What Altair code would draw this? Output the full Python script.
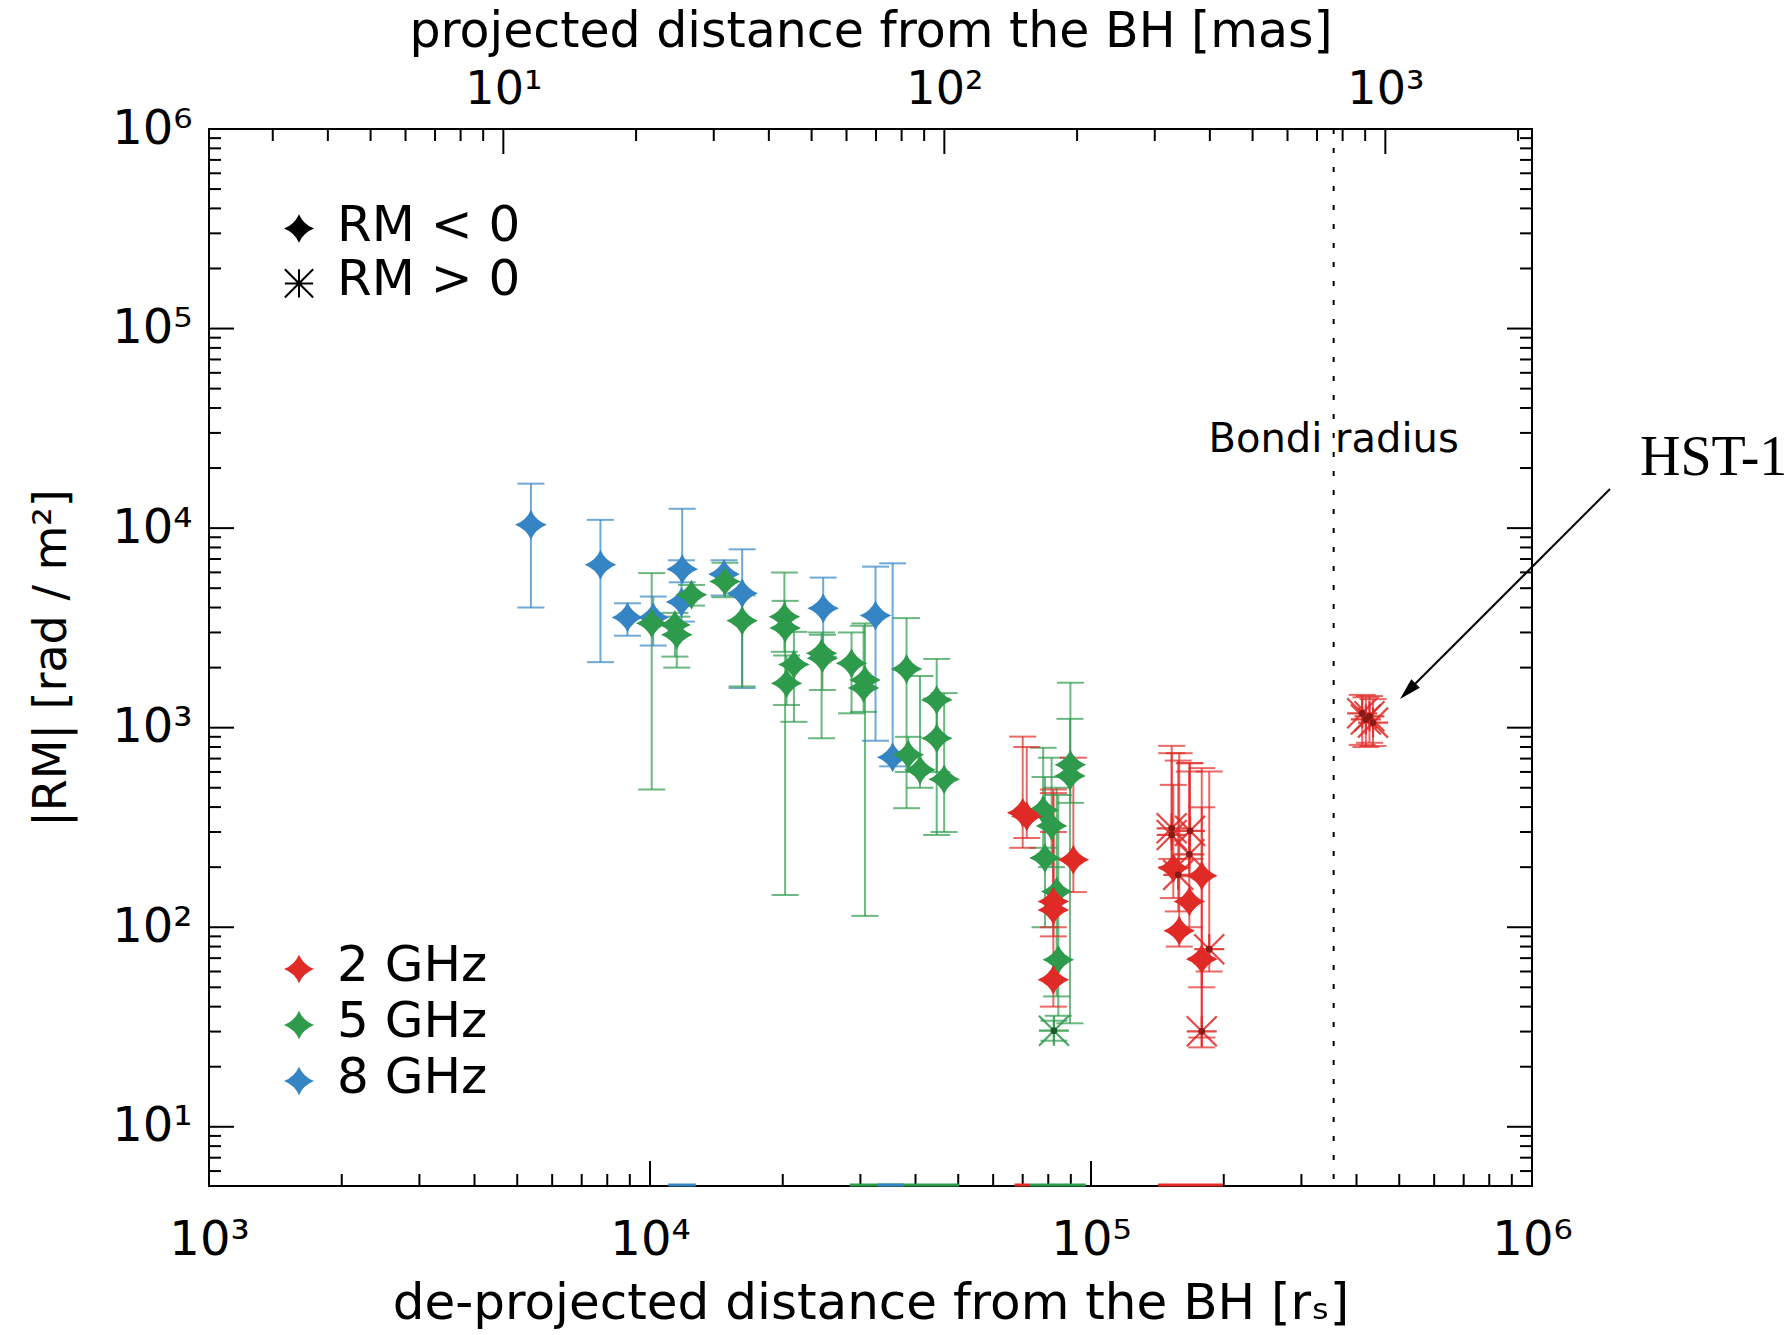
import altair as alt
import pandas as pd

# ---------------- values ----------------
# 8 GHz, RM < 0
b8_r  = [5370, 7720, 8890, 10170, 11830, 11790, 14720, 16180, 24700, 32460, 35500]
b8_rm = [10400, 6550, 3570, 3570, 6230, 4260, 5880, 4720, 3970, 3650, 711]
b8_lo = [4000, 2130, 2890, 2580, 5350, 3400, 4600, 1580, 2270, 860, 640]
b8_hi = [16700, 11000, 4200, 4540, 12500, 6900, 6900, 7830, 5650, 6410, 6660]

# 5 GHz, RM < 0
g5n_r  = [10090, 11390, 11500, 12420, 14790, 16180, 20170, 20250, 20400, 21200, 24500, 24600,
          28640, 30720, 30500, 38170, 38520, 40950, 44680, 44700, 46450,
          77900, 81400, 78650, 83600, 84300, 89800, 89600]
g5n_rm = [3340, 3270, 2920, 4630, 5400, 3430, 3600, 3160, 1670, 2070, 2360, 2230,
          2100, 1735, 1580, 1970, 731, 615, 1377, 885, 552,
          387, 322, 222, 151, 68.7, 652, 573]
g5n_lo = [490, 2270, 2000, 4090, 4500, 1610, 2400, 145, 1300, 1070, 885, 1545,
          1180, 114, 1200, 395, 600, 500, 290, 600, 300,
          250, 200, 100, 45, 36, 420, 33]
g5n_hi = [5950, 3760, 3600, 5190, 6700, 4600, 5990, 4320, 2300, 3020, 3000, 2920,
          3000, 3330, 3240, 3540, 900, 1815, 2210, 1400, 1490,
          793, 707, 566, 500, 460, 1680, 1107]

# 5 GHz, RM > 0
g5p_r  = [82400]
g5p_rm = [30.3]
g5p_lo = [27]
g5p_hi = [34]

# 2 GHz, RM < 0
r2n_r  = [70000, 71500, 91200, 82150, 82150, 82150, 153700, 178300, 167100, 158500, 178300]
r2n_rm = [375, 360, 218, 134.6, 122, 54.6, 198, 181, 134.6, 96, 69.2]
r2n_lo = [250, 280, 150, 100, 90, 40, 140, 50, 100, 80, 28]
r2n_hi = [902, 800, 707, 490, 470, 300, 517, 627, 664, 745, 399]

# 2 GHz, RM > 0
r2p_r  = [152400, 152400, 167700, 167100, 157700, 185400, 178300]
r2p_rm = [313, 290, 304, 232, 183, 77.6, 30.1]
r2p_lo = [200, 220, 220, 180, 120, 60, 25]
r2p_hi = [811, 745, 664, 603, 684, 603, 70]

# HST-1 (2 GHz, RM > 0)
hst_r  = [412000, 420000, 428000, 436000]
hst_rm = [1180, 1100, 1140, 1060]
hst_lo = [820, 800, 840, 810]
hst_hi = [1460, 1420, 1440, 1390]

# coloured ranges on the bottom axis
seg_lo   = [11000, 28400, 32800, 67100, 72800, 142000]
seg_hi   = [12700, 50200, 37600, 72800, 97300, 199000]
seg_band = ["8", "5", "8", "2", "5", "2"]

bondi_r = [355000]
RS_PER_MAS = 465.0

# ---------------- styling ----------------
W, H = 1323, 1057
FONT = "DejaVu Sans"
BANDS = ["2", "5", "8"]
COLORS = ["#e02a26", "#2e9a4b", "#3584c4"]
DARK = ["#8a1a15", "#1d5a2c", "#1f4f78"]
STAR = "M0,-0.95 Q0.28,-0.28 1,0 Q0.28,0.28 0,0.95 Q-0.28,0.28 -1,0 Q-0.28,-0.28 0,-0.95 Z"
AST = "M-1,0 L1,0 M-1,-1 L1,1 M-1,1 L1,-1 M0,-1 L0,1"
SUP = "'10' + ['\u2070','\u00b9','\u00b2','\u00b3','\u2074','\u2075','\u2076'][round(log(datum.value)/LN10)]"


def frame(band, sign, r, rm, lo, hi):
    return pd.DataFrame({"band": band, "sign": sign, "r": r, "rm": rm, "lo": lo, "hi": hi})


pts = pd.concat([
    frame("8", "neg", b8_r, b8_rm, b8_lo, b8_hi),
    frame("5", "neg", g5n_r, g5n_rm, g5n_lo, g5n_hi),
    frame("5", "pos", g5p_r, g5p_rm, g5p_lo, g5p_hi),
    frame("2", "neg", r2n_r, r2n_rm, r2n_lo, r2n_hi),
    frame("2", "pos", r2p_r, r2p_rm, r2p_lo, r2p_hi),
    frame("2", "pos", hst_r, hst_rm, hst_lo, hst_hi),
], ignore_index=True)

XS = alt.Scale(type="log", domain=[1e3, 1e6], nice=False)
YS = alt.Scale(type="log", domain=[5.05, 1e6], nice=False)
MS = alt.Scale(type="log", domain=[1e3 / RS_PER_MAS, 1e6 / RS_PER_MAS], nice=False)
CS = alt.Scale(domain=BANDS, range=COLORS)
DS = alt.Scale(domain=BANDS, range=DARK)

XAX = alt.Axis(values=[1e3, 1e4, 1e5, 1e6], labelExpr=SUP, ticks=False, tickSize=0, domain=False,
               grid=False, labelFontSize=48, labelPadding=54, labelBaseline="middle",
               labelFlush=False, labelOverlap=False,
               title="de-projected distance from the BH [r\u209b]", titleFontSize=50,
               titleY=117, titleBaseline="middle")
YAX = alt.Axis(values=[1e1, 1e2, 1e3, 1e4, 1e5, 1e6], labelExpr=SUP, ticks=False, tickSize=0,
               domain=False, grid=False, labelFontSize=48, labelPadding=17, labelFlush=False,
               labelOverlap=False, title="|RM| [rad / m\u00b2]", titleFontSize=46,
               titleX=-158, titleY=H / 2, titleAngle=-90, titleBaseline="middle", titleAlign="center")
TAX = alt.Axis(orient="top", values=[10, 100, 1000], labelExpr=SUP, ticks=False, tickSize=0,
               domain=False, grid=False, labelFontSize=46, labelPadding=40, labelBaseline="middle",
               labelFlush=False, labelOverlap=False,
               title="projected distance from the BH [mas]", titleFontSize=49,
               titleY=-98, titleBaseline="middle")


def xr(field="r"):
    return alt.X(f"{field}:Q", scale=XS, axis=XAX)


def yr(field):
    return alt.Y(f"{field}:Q", scale=YS, axis=YAX)


# tick positions for inward ticks
def log_ticks(lo, hi):
    major, minor = [], []
    e = -2
    while 10 ** e <= hi * 1.0001:
        for m in range(1, 10):
            v = m * 10 ** e
            if lo * 0.9999 <= v <= hi * 1.0001:
                (major if m == 1 else minor).append(v)
        e += 1
    return major, minor


xmaj, xmin = log_ticks(1e3, 1e6)
ymaj, ymin = log_ticks(5.05, 1e6)
mmaj, mmin = log_ticks(1e3 / RS_PER_MAS, 1e6 / RS_PER_MAS)

MAJ, MIN = 25, 12
tick_layers = []
for vals, ln in ((xmaj, MAJ), (xmin, MIN)):
    d = pd.DataFrame({"v": vals})
    tick_layers.append(alt.Chart(d).mark_rule(color="black", strokeWidth=2).encode(
        x=xr("v"), y=alt.value(H), y2=alt.value(H - ln)))
for vals, ln in ((ymaj, MAJ), (ymin, MIN)):
    d = pd.DataFrame({"v": vals})
    tick_layers.append(alt.Chart(d).mark_rule(color="black", strokeWidth=2).encode(
        y=yr("v"), x=alt.value(0), x2=alt.value(ln)))
    tick_layers.append(alt.Chart(d).mark_rule(color="black", strokeWidth=2).encode(
        y=yr("v"), x=alt.value(W), x2=alt.value(W - ln)))

bondi = pd.DataFrame({"r": bondi_r, "label": ["Bondi radius"]})
bondi_line = alt.Chart(bondi).mark_rule(color="black", strokeWidth=2, strokeDash=[5, 14]).encode(
    x=xr(), y=alt.value(0), y2=alt.value(H))
bondi_text = alt.Chart(bondi).mark_text(font=FONT, fontSize=40, align="center", baseline="middle",
                                        color="black").encode(x=xr(), y=alt.value(311), text="label:N")

base = alt.Chart(pts)
col = alt.Color("band:N", scale=CS, legend=None)
err = base.mark_rule(strokeWidth=2, opacity=0.7).encode(x=xr(), y=yr("lo"), y2="hi:Q", color=col)
cap_lo = base.mark_tick(orient="horizontal", size=27, thickness=2, opacity=0.7).encode(
    x=xr(), y=yr("lo"), color=col)
cap_hi = base.mark_tick(orient="horizontal", size=27, thickness=2, opacity=0.7).encode(
    x=xr(), y=yr("hi"), color=col)
stars = base.transform_filter(alt.datum.sign == "neg").mark_point(
    shape=STAR, filled=True, size=1000, opacity=1, strokeWidth=0).encode(x=xr(), y=yr("rm"), color=col)
asts = base.transform_filter(alt.datum.sign == "pos").mark_point(
    shape=AST, filled=False, size=900, strokeWidth=2.2, opacity=0.85).encode(x=xr(), y=yr("rm"), color=col)
dots = base.transform_filter(alt.datum.sign == "pos").mark_point(
    shape="circle", filled=True, size=45, opacity=1, strokeWidth=0).encode(
    x=xr(), y=yr("rm"), fill=alt.Fill("band:N", scale=DS, legend=None))

segs = pd.DataFrame({"lo": seg_lo, "hi": seg_hi, "band": seg_band})
seg_layer = alt.Chart(segs).mark_rule(strokeWidth=3).encode(
    x=xr("lo"), x2="hi:Q", y=alt.value(H - 1), color=col)

# legends (drawn in the plot area)
legend_layers = []
leg_items = [("RM < 0", "neg", "black", 99.6), ("RM > 0", "pos", "black", 154.4),
             ("2 GHz", "neg", COLORS[0], 840), ("5 GHz", "neg", COLORS[1], 896),
             ("8 GHz", "neg", COLORS[2], 952)]
for label, sign, colr, py in leg_items:
    d = pd.DataFrame({"t": [label]})
    if sign == "neg":
        sym = alt.Chart(d).mark_point(shape=STAR, filled=True, size=900, color=colr, opacity=1,
                                      strokeWidth=0)
    else:
        sym = alt.Chart(d).mark_point(shape=AST, filled=False, size=800, color=colr, strokeWidth=2,
                                      opacity=1)
    legend_layers.append(sym.encode(x=alt.value(90), y=alt.value(py)))
    legend_layers.append(alt.Chart(d).mark_text(font=FONT, fontSize=50, align="left", baseline="middle",
                                                color="black").encode(
        x=alt.value(128), y=alt.value(py - 3), text="t:N"))

# HST-1 annotation
hst_df = pd.DataFrame({"t": ["HST-1"]})
hst_text = alt.Chart(hst_df).mark_text(font="Liberation Serif", fontSize=56, align="left",
                                       baseline="middle", color="black").encode(
    x=alt.value(1431), y=alt.value(329), text="t:N")
arrow_line = alt.Chart(hst_df).mark_rule(color="black", strokeWidth=2).encode(
    x=alt.value(1401), x2=alt.value(1198), y=alt.value(360), y2=alt.value(563))
arrow_head = alt.Chart(hst_df).mark_point(shape="M0,-1 L0.55,1 L-0.55,1 Z", filled=True, size=484,
                                          color="black", angle=225, opacity=1, strokeWidth=0).encode(
    x=alt.value(1198.8), y=alt.value(562.2))

main = alt.layer(*tick_layers, bondi_line, bondi_text, err, cap_lo, cap_hi, seg_layer,
                 stars, asts, dots, *legend_layers, hst_text, arrow_line, arrow_head)

# top axis in mas
top_layers = []
for vals, ln in ((mmaj, MAJ), (mmin, MIN)):
    d = pd.DataFrame({"m": vals})
    top_layers.append(alt.Chart(d).mark_rule(color="black", strokeWidth=2).encode(
        x=alt.X("m:Q", scale=MS, axis=TAX), y=alt.value(0), y2=alt.value(ln)))
top = alt.layer(*top_layers)

chart = alt.layer(main, top).resolve_scale(x="independent").properties(
    width=W, height=H, autosize="none",
    padding={"left": 209, "top": 129, "right": 260, "bottom": 149},
    background="white",
).configure_view(stroke="black", strokeWidth=2).configure_axis(
    labelFont=FONT, titleFont=FONT, labelColor="black", titleColor="black", titleFontWeight="normal"
)

chart.save("out.html", embed_options={"renderer": "svg", "actions": False})
